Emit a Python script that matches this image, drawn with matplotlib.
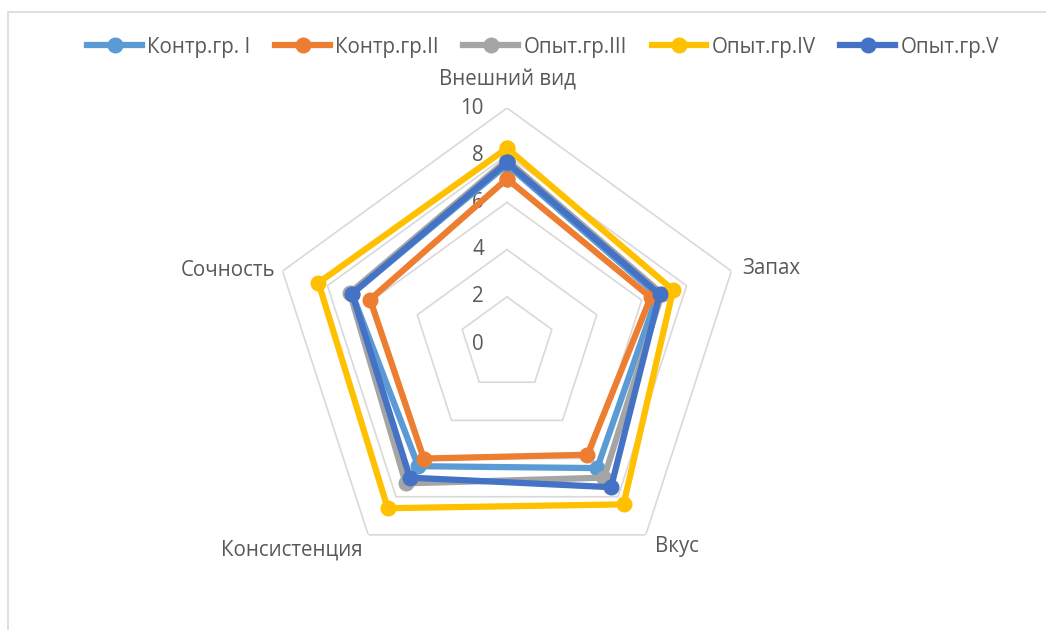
import numpy as np
import matplotlib
matplotlib.use("Agg")
import matplotlib.pyplot as plt
from matplotlib.lines import Line2D
from matplotlib.patches import Rectangle
from matplotlib.transforms import offset_copy

plt.rcParams['font.family'] = ['Open Sans', 'DejaVu Sans']

categories = ["Внешний вид", "Запах", "Вкус", "Консистенция", "Сочность"]
series_names = ["Контр.гр. I", "Контр.гр.II", "Опыт.гр.III", "Опыт.гр.IV", "Опыт.гр.V"]
group_1 = [7.6, 6.7, 6.5, 6.4, 6.9]
group_2 = [7.0, 6.4, 5.8, 6.0, 6.1]
group_3 = [7.8, 6.9, 7.0, 7.3, 7.0]
group_4 = [8.3, 7.4, 8.4, 8.6, 8.4]
group_5 = [7.7, 6.8, 7.5, 7.0, 6.9]
r_ticks = [0, 2, 4, 6, 8, 10]

series = [group_1, group_2, group_3, group_4, group_5]
colors = ["#5B9BD5", "#ED7D31", "#A5A5A5", "#FFC000", "#4472C4"]
text_color = "#595959"
fs = 14.8

W, H = 1046, 630
fig = plt.figure(figsize=(W / 100, H / 100), dpi=100)
fig.patch.set_facecolor("white")

# thin chart-area frame
fig.patches.append(Rectangle((8 / W, -0.1), 1.2, 1 - 12 / H + 0.1,
                             transform=fig.transFigure, fill=False,
                             edgecolor="#D9D9D9", linewidth=1.2))

cx, cy, R = 507, 344, 236
ax = fig.add_axes([(cx - R) / W, (H - cy - R) / H, 2 * R / W, 2 * R / H],
                  projection="polar")
ax.set_theta_offset(np.pi / 2)
ax.set_theta_direction(-1)
ax.set_ylim(0, 10)
ax.grid(False)
ax.spines["polar"].set_visible(False)
ax.set_xticks([])
ax.set_yticks([])
ax.patch.set_alpha(0)

n = len(categories)
angles = np.linspace(0, 2 * np.pi, n, endpoint=False)
closed = np.append(angles, angles[0])

# polygon gridlines
for r in r_ticks[1:]:
    ax.plot(closed, [r] * (n + 1), color="#D9D9D9", lw=1.2, zorder=1)

# radial value labels, left of the vertical axis
lab_tr = offset_copy(ax.transData, fig=fig, x=-23, y=0, units="dots")
for r in r_ticks:
    ax.text(0, r, str(r), transform=lab_tr, ha="right", va="center",
            fontsize=fs, color=text_color)

# category labels next to the outer vertices
label_style = [
    (0, -0, 17, "center", "bottom"),
    (1, 11, 3, "left", "center"),
    (2, 9, -1, "left", "top"),
    (3, -6, -5, "right", "top"),
    (4, -7, 1, "right", "center"),
]
for cat, (i, dx, dy, ha, va) in zip(categories, label_style):
    tr = offset_copy(ax.transData, fig=fig, x=dx, y=dy, units="dots")
    ax.text(angles[i], 10, cat, transform=tr, ha=ha, va=va, fontsize=fs,
            color=text_color, clip_on=False)

for vals, col, name in zip(series, colors, series_names):
    v = np.append(vals, vals[0])
    ax.plot(closed, v, color=col, lw=4.5, marker="o", markersize=10.5,
            solid_joinstyle="miter", zorder=3, label=name, clip_on=False)

handles = [Line2D([0], [0], color=c, lw=4.5, marker="o", markersize=10.5)
           for c in colors]
fig.legend(handles, series_names, loc="center", bbox_to_anchor=(543 / W, 1 - 47 / H),
           ncol=5, frameon=False, fontsize=fs, handlelength=2.67,
           handletextpad=0.25, columnspacing=1.2, labelcolor=text_color)

fig.savefig("out.png", dpi=100, facecolor="white")
